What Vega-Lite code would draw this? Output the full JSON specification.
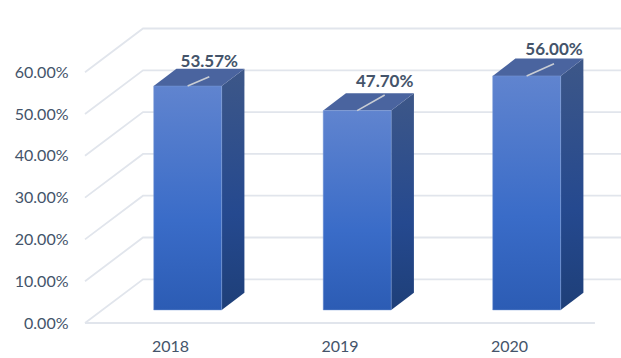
{
  "$schema": "https://vega.github.io/schema/vega-lite/v6.json",
  "width": 548,
  "height": 315,
  "autosize": {"type": "none"},
  "padding": {"left": 73, "top": 8, "right": 0, "bottom": 35},
  "background": "white",
  "config": {"view": {"stroke": null}},
  "datasets": {
    "bars": [
      {"year": 2018, "value": 53.57},
      {"year": 2019, "value": 47.70},
      {"year": 2020, "value": 56.00}
    ],
    "levels": [
      {"level": 0}, {"level": 10}, {"level": 20}, {"level": 30}, {"level": 40}, {"level": 50}, {"level": 60}
    ]
  },
  "layer": [
    {
      "data": {"name": "levels"},
      "transform": [
        {"calculate": "[0,1,2]", "as": "corner"},
        {"flatten": ["corner"]},
        {"calculate": "datum.corner==0?2017.4985:datum.corner==1?2017.8407:2020.6608", "as": "gx"},
        {"calculate": "datum.corner==0?datum.level:datum.level+10.45", "as": "gy"}
      ],
      "mark": {"type": "line", "color": "#E1E5EC", "strokeWidth": 1.8, "interpolate": "linear"},
      "encoding": {
        "x": {
          "field": "gx", "type": "quantitative",
          "scale": {"domain": [2017.4277, 2020.6608], "nice": false, "zero": false},
          "axis": {"values": [2018, 2019, 2020], "format": "d", "title": null, "domain": false, "ticks": false, "grid": false, "labelPadding": 15, "labelFont": "Lato", "labelFontSize": 16, "labelColor": "#44546A", "labelFlush": false}
        },
        "y": {
          "field": "gy", "type": "quantitative",
          "scale": {"domain": [0, 75.36], "nice": false, "zero": false},
          "axis": {"values": [0, 10, 20, 30, 40, 50, 60], "labelExpr": "format(datum.value,'.2f')+'%'", "title": null, "domain": false, "ticks": false, "grid": false, "labelPadding": 5, "labelFont": "Lato", "labelFontSize": 16, "labelColor": "#44546A", "labelFlush": false}
        },
        "detail": {"field": "level", "type": "nominal"},
        "order": {"field": "corner", "type": "quantitative"}
      }
    },
    {
      "data": {"name": "levels"},
      "transform": [{"filter": "datum.level==0"}, {"calculate": "2017.4985", "as": "fx"}, {"calculate": "2020.507", "as": "fx2"}],
      "mark": {"type": "rule", "color": "#E1E5EC", "strokeWidth": 1.8},
      "encoding": {
        "x": {"field": "fx", "type": "quantitative"},
        "x2": {"field": "fx2"},
        "y": {"field": "level", "type": "quantitative"}
      }
    },
    {
      "data": {"name": "bars"},
      "transform": [
        {"calculate": "[0,1]", "as": "corner"},
        {"flatten": ["corner"]},
        {"calculate": "datum.year+0.305+(datum.corner==1?0.134:0)", "as": "sx"},
        {"calculate": "3.11+(datum.corner==1?4.14:0)", "as": "sy"},
        {"calculate": "datum.value+3.11+(datum.corner==1?4.14:0)", "as": "sy2"}
      ],
      "mark": {
        "type": "area", "interpolate": "linear",
        "fill": {"gradient": "linear", "x1": 0, "y1": 0, "x2": 0, "y2": 1, "stops": [
          {"offset": 0, "color": "#3D5788"},
          {"offset": 0.6, "color": "#25498F"},
          {"offset": 1, "color": "#1E3F78"}
        ]}
      },
      "encoding": {
        "x": {"field": "sx", "type": "quantitative"},
        "y": {"field": "sy", "type": "quantitative", "stack": null},
        "y2": {"field": "sy2"},
        "detail": {"field": "year", "type": "nominal"}
      }
    },
    {
      "data": {"name": "bars"},
      "transform": [
        {"calculate": "[0,1,2,3]", "as": "corner"},
        {"flatten": ["corner"]},
        {"calculate": "datum.corner==0?datum.year-0.0962:datum.corner==1?datum.year+0.0378:datum.corner==2?datum.year+0.305:datum.year+0.439", "as": "tx"},
        {"calculate": "datum.value+3.11+(datum.corner==3?4.14:0)", "as": "ty"},
        {"calculate": "datum.value+3.11+(datum.corner==0?0:4.14)", "as": "ty2"}
      ],
      "mark": {"type": "area", "interpolate": "linear", "fill": "#4A649F"},
      "encoding": {
        "x": {"field": "tx", "type": "quantitative"},
        "y": {"field": "ty", "type": "quantitative", "stack": null},
        "y2": {"field": "ty2"},
        "detail": {"field": "year", "type": "nominal"}
      }
    },
    {
      "data": {"name": "bars"},
      "transform": [
        {"calculate": "datum.year-0.0962", "as": "fx"},
        {"calculate": "datum.year+0.305", "as": "fx2"},
        {"calculate": "3.11", "as": "fy"},
        {"calculate": "datum.value+3.11", "as": "fy2"}
      ],
      "mark": {
        "type": "rect", "stroke": "#7C9BDA", "strokeWidth": 0.6, "strokeOpacity": 0.8,
        "fill": {"gradient": "linear", "x1": 0, "y1": 0, "x2": 0, "y2": 1, "stops": [
          {"offset": 0, "color": "#6084CF"},
          {"offset": 0.6, "color": "#3A6CC8"},
          {"offset": 1, "color": "#2C5CB4"}
        ]}
      },
      "encoding": {
        "x": {"field": "fx", "type": "quantitative"},
        "x2": {"field": "fx2"},
        "y": {"field": "fy", "type": "quantitative"},
        "y2": {"field": "fy2"}
      }
    },
    {
      "data": {"name": "bars"},
      "transform": [
        {"calculate": "datum.year+0.104", "as": "lx"},
        {"calculate": "datum.value+3.11", "as": "ly"},
        {"calculate": "datum.year+(datum.year==2018?0.2319:datum.year==2019?0.2667:0.2655)", "as": "lx2"},
        {"calculate": "datum.value+(datum.year==2018?5.35:datum.year==2019?6.85:6.03)", "as": "ly2"}
      ],
      "mark": {"type": "rule", "color": "#C9CDD4", "strokeWidth": 1.6},
      "encoding": {
        "x": {"field": "lx", "type": "quantitative"},
        "x2": {"field": "lx2"},
        "y": {"field": "ly", "type": "quantitative"},
        "y2": {"field": "ly2"}
      }
    },
    {
      "data": {"name": "bars"},
      "transform": [
        {"calculate": "datum.year+(datum.year==2018?0.2319:datum.year==2019?0.2667:0.2655)", "as": "tx"},
        {"calculate": "datum.value+(datum.year==2018?8.8:datum.year==2019?10.03:9.31)", "as": "ty"},
        {"calculate": "format(datum.value,'.2f')+'%'", "as": "label"}
      ],
      "mark": {"type": "text", "font": "Lato", "fontSize": 17, "fontWeight": "bold", "color": "#44546A", "align": "center", "baseline": "middle"},
      "encoding": {
        "x": {"field": "tx", "type": "quantitative"},
        "y": {"field": "ty", "type": "quantitative"},
        "text": {"field": "label", "type": "nominal"}
      }
    }
  ]
}
